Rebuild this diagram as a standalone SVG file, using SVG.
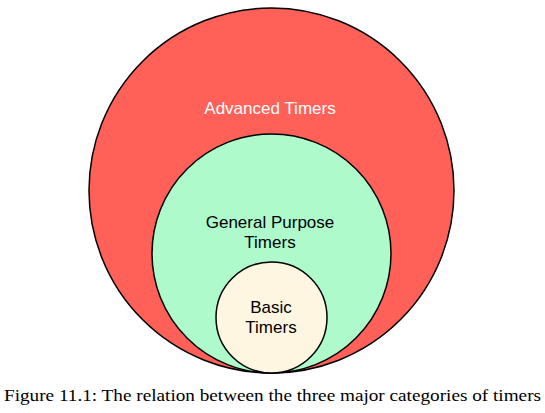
<svg xmlns="http://www.w3.org/2000/svg" width="545" height="413" viewBox="0 0 545 413">
<style>
.c{stroke:#000;stroke-width:1.5}
.t{font-family:"Liberation Sans",Arial,sans-serif;font-size:17px;text-anchor:middle}
.cap{font-family:"Liberation Serif","Times New Roman",serif;font-size:17.5px}
</style>
<rect width="545" height="413" fill="#fff"/>
<g id="advanced">
<circle class="c" cx="271.5" cy="190.5" r="182.5" fill="#FF6159"/>
<text class="t" x="270" y="114" fill="#fff">Advanced Timers</text>
</g>
<g id="general">
<circle class="c" cx="271.5" cy="253.5" r="119.5" fill="#AEFACA"/>
<text class="t" x="270" y="228" fill="#000">General Purpose</text>
<text class="t" x="270" y="248" fill="#000">Timers</text>
</g>
<g id="basic">
<circle class="c" cx="271.5" cy="317.5" r="55.5" fill="#FEF6E0"/>
<text class="t" x="271" y="313" fill="#000">Basic</text>
<text class="t" x="271" y="333" fill="#000">Timers</text>
</g>
<g id="connectors"/>
<text class="cap" x="4" y="401" textLength="537" lengthAdjust="spacingAndGlyphs">Figure 11.1: The relation between the three major categories of timers</text>
</svg>
